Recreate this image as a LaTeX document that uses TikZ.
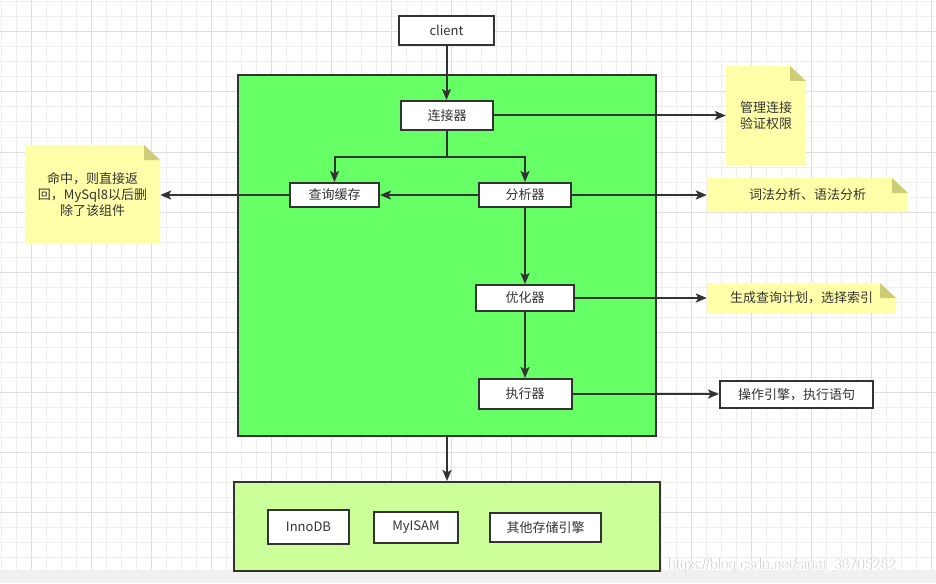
\documentclass[tikz,border=0pt]{standalone}
\usepackage{fontspec}
\setmainfont{Noto Sans CJK SC}
\newfontfamily\wmfont{Liberation Sans}
\usetikzlibrary{arrows.meta}
\definecolor{linec}{HTML}{333333}
\definecolor{textc}{HTML}{333333}
\definecolor{greenA}{HTML}{66FF66}
\definecolor{greenB}{HTML}{CCFF99}
\definecolor{notey}{HTML}{FFFFAA}
\definecolor{notefold}{HTML}{CDCD78}
\definecolor{gridminor}{HTML}{EEEEEE}
\definecolor{gridmajor}{HTML}{DEDEDE}
\definecolor{bandgray}{HTML}{F0F0F0}
\begin{document}
\begin{tikzpicture}[x=1pt,y=-1pt,
  font=\fontsize{13}{16}\selectfont,
  box/.style={draw=linec, line width=2pt, fill=white, text=textc, inner sep=0pt, align=center},
  container/.style={draw=linec, line width=2pt, inner sep=0pt},
  note/.style={inner sep=0pt, align=center, text=textc,
    path picture={
      \fill[notey] (path picture bounding box.south west) -- (path picture bounding box.north west)
        -- ([xshift=-16pt]path picture bounding box.north east)
        -- ([yshift=-15pt]path picture bounding box.north east)
        -- (path picture bounding box.south east) -- cycle;
      \fill[notefold] ([xshift=-16pt]path picture bounding box.north east)
        -- ([xshift=-16pt,yshift=-15pt]path picture bounding box.north east)
        -- ([yshift=-15pt]path picture bounding box.north east) -- cycle;
    }},
  arr/.style={draw=linec, line width=2pt, -{Stealth[length=11pt,width=9pt,inset=2.5pt]}},
  link/.style={draw=linec, line width=2pt}
]
\useasboundingbox (0,0) rectangle (936,583);
\fill[white] (0,0) rectangle (936,583);
% grid
\foreach \x in {1,16,...,931} \draw[gridminor, line width=1pt] (\x,0) -- (\x,569.5);
\foreach \y in {2,17,...,557} \draw[gridminor, line width=1pt] (0,\y) -- (936,\y);
\foreach \x in {31,91,...,931} \draw[gridmajor, line width=1pt] (\x,0) -- (\x,569.5);
\foreach \y in {32,92,...,512} \draw[gridmajor, line width=1pt] (0,\y) -- (936,\y);
\fill[bandgray] (0,569.5) rectangle (936,583);

% containers
\node[container, fill=greenA, minimum width=418pt, minimum height=361pt] (server) at (447,255.5) {};
\node[container, fill=greenB, minimum width=426pt, minimum height=89pt] (storage) at (447,526.5) {};

% boxes
\node[box, minimum width=95pt, minimum height=29pt] (client) at (446.5,30.5) {client};
\node[box, minimum width=92pt, minimum height=29pt] (conn) at (447,115.5) {连接器};
\node[box, minimum width=89pt, minimum height=24pt] (cache) at (334.5,195) {查询缓存};
\node[box, minimum width=92pt, minimum height=24pt] (ana) at (525,195) {分析器};
\node[box, minimum width=98pt, minimum height=26pt] (opt) at (525,298) {优化器};
\node[box, minimum width=93pt, minimum height=30pt] (exe) at (525,394) {执行器};
\node[box, minimum width=153pt, minimum height=27pt] (eng) at (796.5,394.5) {操作引擎，执行语句};
\node[box, minimum width=81pt, minimum height=34pt] (inno) at (308.5,527) {InnoDB};
\node[box, minimum width=84pt, minimum height=31pt] (myisam) at (416,527.5) {MyISAM};
\node[box, minimum width=111pt, minimum height=29pt] (other) at (545.5,527.5) {其他存储引擎};

% notes
\node[note, minimum width=135pt, minimum height=99pt] (hitnote) at (92.5,194.5) {命中，则直接返\\回，MySql8以后删\\除了该组件};
\node[note, minimum width=80pt, minimum height=100pt] (connnote) at (766,116) {管理连接\\验证权限};
\node[note, minimum width=201pt, minimum height=34pt] (lexnote) at (807.5,195) {词法分析、语法分析};
\node[note, minimum width=189pt, minimum height=30pt] (plannote) at (801.5,298) {生成查询计划，选择索引};

% connectors
\draw[arr] (client.south) -- (client.south |- conn.north);
\draw[arr] (conn.east) -- (conn.east -| connnote.west);
\path (conn.south) ++(0,26) coordinate (split);
\draw[link] (conn.south) -- (split);
\draw[arr] (split) -| (cache.north);
\draw[arr] (split) -| (ana.north);
\draw[arr] (ana.west) -- (cache.east);
\draw[arr] (cache.west) -- (cache.west -| hitnote.east);
\draw[arr] (ana.east) -- (ana.east -| lexnote.west);
\draw[arr] (ana.south) -- (opt.north);
\draw[arr] (opt.east) -- (opt.east -| plannote.west);
\draw[arr] (opt.south) -- (exe.north);
\draw[arr] (exe.east) -- (exe.east -| eng.west);
\draw[arr] (server.south) -- (server.south |- storage.north);

% watermark
\node[anchor=base west, text=black!22, font=\wmfont\fontsize{15}{15}\selectfont, xscale=0.93, inner sep=0pt] (wm2) at (667.8,569.8) {https://blog.csdn.net/sinat\_38705282};
\node[anchor=base west, text=white, font=\wmfont\fontsize{15}{15}\selectfont, xscale=0.93, inner sep=0pt] (wm) at (667,569) {https://blog.csdn.net/sinat\_38705282};
\end{tikzpicture}
\end{document}
